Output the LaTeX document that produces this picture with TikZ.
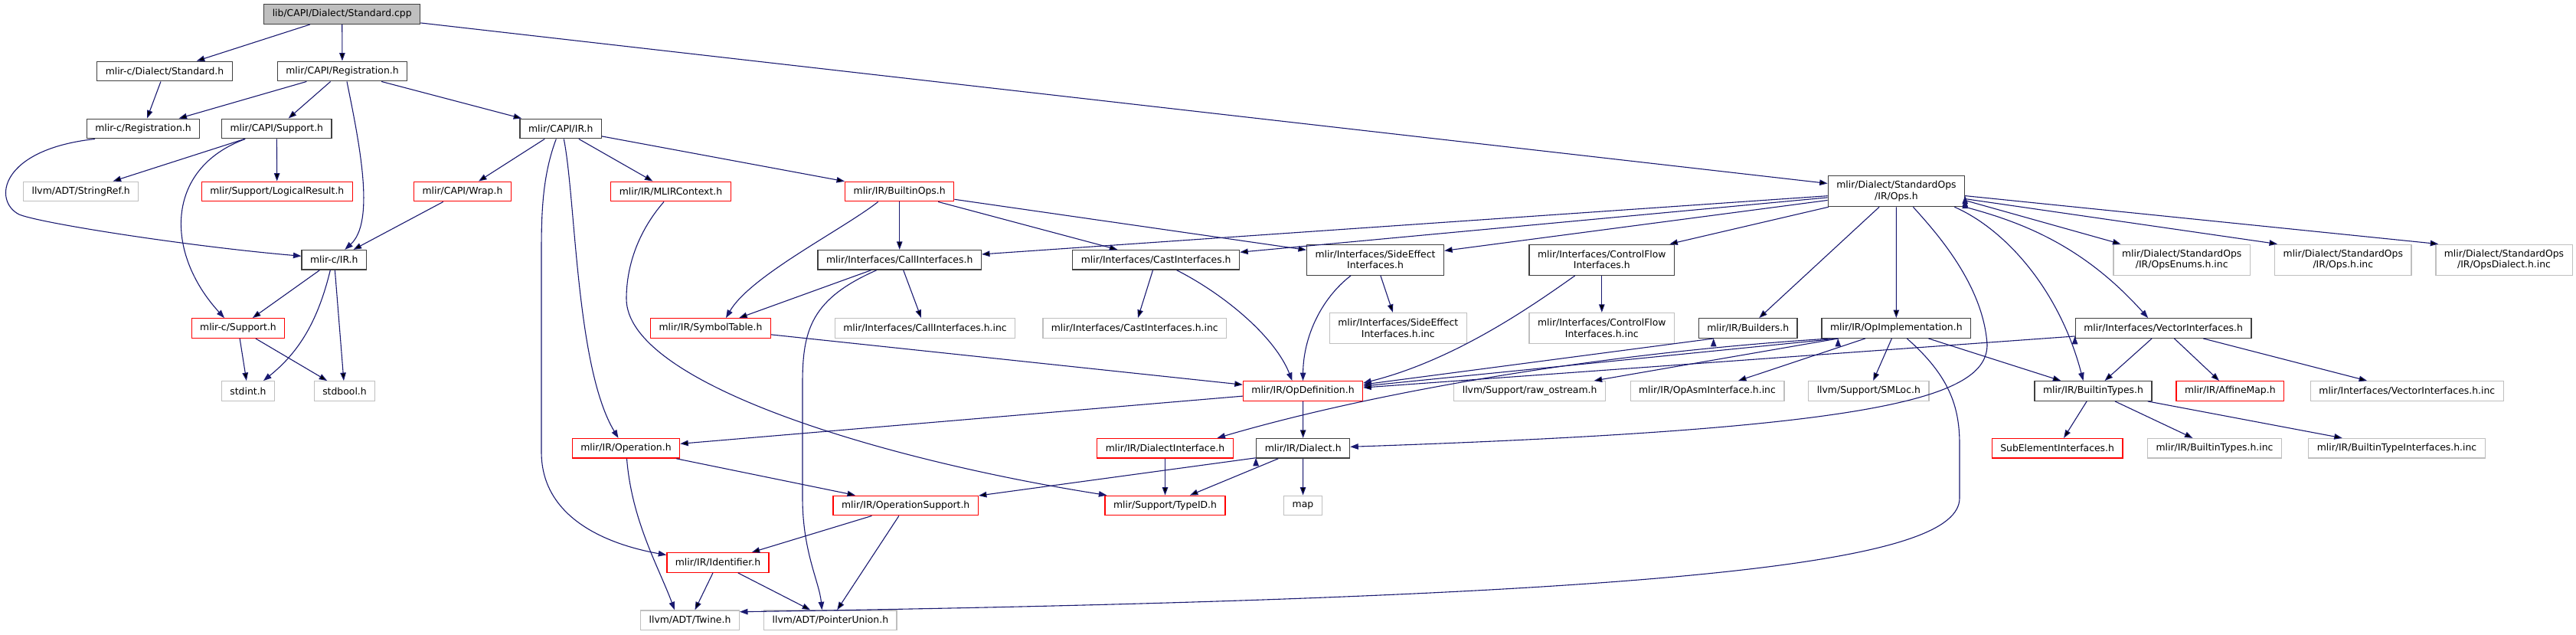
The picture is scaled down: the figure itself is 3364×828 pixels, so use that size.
\documentclass[tikz,border=0pt]{standalone}
\usepackage{fontspec}
\newfontfamily\graphfont{DejaVu Sans}
\usetikzlibrary{arrows.meta}
\definecolor{edgeblue}{HTML}{191970}
\definecolor{docgrey}{HTML}{404040}
\definecolor{sysgrey}{HTML}{BFBFBF}

\begin{document}
\begin{tikzpicture}[
	x=1pt, y=-1pt,
	>={Triangle[length=10.5pt,width=7.5pt]},
	file/.style={rectangle, draw, fill=white, line width=1.3pt, inner xsep=11pt, inner ysep=0pt,
		minimum height=25.6pt, font=\graphfont\fontsize{12.4}{14.3}\selectfont},
	doc/.style={file, draw=docgrey},
	trunc/.style={file, draw=red},
	sys/.style={file, draw=sysgrey},
	root/.style={doc, fill=sysgrey},
	twoline/.style={align=center, minimum height=40pt},
	dep/.style={->, draw=edgeblue, line width=1.1pt}
	]
	\useasboundingbox (0,0) rectangle (3364,828);
	
	% Top rows
	\node[root] (cpp) at (446.7,18.5) {lib/CAPI/Dialect/Standard.cpp};
	\node[doc] (stdh) at (215,93) {mlir-c/Dialect/Standard.h};
	\node[doc] (capireg) at (447,93) {mlir/CAPI/Registration.h};
	\node[doc] (creg) at (187,168) {mlir-c/Registration.h};
	\node[doc] (capisupp) at (361.3,168) {mlir/CAPI/Support.h};
	\node[doc] (capiir) at (732.3,168) {mlir/CAPI/IR.h};
	\node[sys] (stringref) at (105.7,250) {llvm/ADT/StringRef.h};
	\node[trunc] (logicres) at (361.8,250) {mlir/Support/LogicalResult.h};
	\node[trunc] (wrap) at (604,250) {mlir/CAPI/Wrap.h};
	\node[trunc] (mlirctx) at (876,250) {mlir/IR/MLIRContext.h};
	\node[trunc] (builtinops) at (1174.7,250) {mlir/IR/BuiltinOps.h};
	\node[doc,twoline] (opsh) at (2476.4,249.6) {mlir/Dialect/StandardOps\\/IR/Ops.h};
	
	% Interfaces
	\node[doc] (cir) at (436.3,339.3) {mlir-c/IR.h};
	\node[doc] (callif) at (1174.7,339.3) {mlir/Interfaces/CallInterfaces.h};
	\node[doc] (castif) at (1509.7,339.3) {mlir/Interfaces/CastInterfaces.h};
	\node[doc,twoline] (sideeff) at (1796,339.2) {mlir/Interfaces/SideEffect\\Interfaces.h};
	\node[doc,twoline] (ctrlflow) at (2091.8,339.2) {mlir/Interfaces/ControlFlow\\Interfaces.h};
	\node[sys,twoline] (opsenums) at (2849.2,339.2) {mlir/Dialect/StandardOps\\/IR/OpsEnums.h.inc};
	\node[sys,twoline] (opsinc) at (3059.8,339.2) {mlir/Dialect/StandardOps\\/IR/Ops.h.inc};
	\node[sys,twoline] (opsdialect) at (3270,339.2) {mlir/Dialect/StandardOps\\/IR/OpsDialect.h.inc};
	
	\node[trunc] (csupp) at (311,428.5) {mlir-c/Support.h};
	\node[trunc] (symtab) at (928,428.5) {mlir/IR/SymbolTable.h};
	\node[sys] (callinc) at (1208,428.5) {mlir/Interfaces/CallInterfaces.h.inc};
	\node[sys] (castinc) at (1481.8,428.5) {mlir/Interfaces/CastInterfaces.h.inc};
	\node[sys,twoline] (sideeffinc) at (1825.8,428.5) {mlir/Interfaces/SideEffect\\Interfaces.h.inc};
	\node[sys,twoline] (ctrlflowinc) at (2091.8,428.5) {mlir/Interfaces/ControlFlow\\Interfaces.h.inc};
	\node[doc] (builders) at (2282.7,428.5) {mlir/IR/Builders.h};
	\node[doc] (opimpl) at (2476.3,428.5) {mlir/IR/OpImplementation.h};
	\node[doc] (vecif) at (2825.1,428.5) {mlir/Interfaces/VectorInterfaces.h};
	
	% Lower rows
	\node[sys] (stdint) at (324,510.5) {stdint.h};
	\node[sys] (stdbool) at (450,510.5) {stdbool.h};
	\node[trunc] (opdef) at (1701.5,510.5) {mlir/IR/OpDefinition.h};
	\node[sys] (rawos) at (1997.6,510.5) {llvm/Support/raw\_ostream.h};
	\node[sys] (opasminc) at (2229.5,510.5) {mlir/IR/OpAsmInterface.h.inc};
	\node[sys] (smloc) at (2440.3,510.5) {llvm/Support/SMLoc.h};
	\node[doc] (btypes) at (2733.5,510.5) {mlir/IR/BuiltinTypes.h};
	\node[trunc] (affmap) at (2912.3,510.5) {mlir/IR/AffineMap.h};
	\node[sys] (vecinc) at (3143.3,510.5) {mlir/Interfaces/VectorInterfaces.h.inc};
	
	\node[trunc] (operation) at (817.5,585.3) {mlir/IR/Operation.h};
	\node[trunc] (dialectif) at (1521.5,585.3) {mlir/IR/DialectInterface.h};
	\node[doc] (dialect) at (1701.7,585.3) {mlir/IR/Dialect.h};
	\node[trunc] (subelem) at (2686.6,585.3) {SubElementInterfaces.h};
	\node[sys] (btypesinc) at (2892,585.3) {mlir/IR/BuiltinTypes.h.inc};
	\node[sys] (btifinc) at (3130,585.3) {mlir/IR/BuiltinTypeInterfaces.h.inc};
	
	\node[trunc] (opsupp) at (1182.7,660) {mlir/IR/OperationSupport.h};
	\node[trunc] (typeid) at (1521.5,660) {mlir/Support/TypeID.h};
	\node[sys] (map) at (1701.5,660) {map};
	\node[trunc] (ident) at (937.5,734.5) {mlir/IR/Identifier.h};
	\node[sys] (twine) at (901,809.7) {llvm/ADT/Twine.h};
	\node[sys] (ptrunion) at (1084.4,809.7) {llvm/ADT/PointerUnion.h};
	
	% C API includes
	\path[dep] (cpp) edge (stdh) edge (capireg) edge (opsh);
	\path[dep] (stdh) edge (creg);
	\path[dep] (capireg) edge (creg) edge (capisupp) edge (capiir);
	\draw[dep] ([xshift=6pt]capireg.south) .. controls (470,190) and (490,290) .. ([xshift=14pt]cir.north);
	\draw[dep] ([xshift=-63pt]creg.south) .. controls (0,195) and (-10,262) .. (25,280)
		.. controls (55,292) and (250,322) .. ([yshift=5pt]cir.west);
	\path[dep] (capisupp) edge (stringref) edge (logicres);
	\draw[dep] ([xshift=-41pt]capisupp.south) .. controls (215,220) and (215,330) .. ([xshift=-18pt]csupp.north);
	\path[dep] (capiir) edge (wrap) edge (mlirctx) edge (builtinops);
	\draw[dep] ([xshift=4pt]capiir.south) .. controls (752,260) and (752,480) .. ([xshift=-10pt]operation.north);
	\draw[dep] ([xshift=-6pt]capiir.south) .. controls (708,230) and (707,280) .. (707,330) -- (707,590)
		.. controls (707,680) and (800,712) .. ([yshift=10pt]ident.west);
	\path[dep] (wrap) edge (cir);
	\path[dep] (cir) edge (csupp) edge (stdbool);
	\draw[dep] ([xshift=-5pt]cir.south) .. controls (415,420) and (390,460) .. ([xshift=20pt]stdint.north);
	\path[dep] (csupp) edge (stdint) edge (stdbool);
	
	% IR includes
	\draw[dep] ([xshift=-9pt]mlirctx.south) .. controls (835,300) and (818,345) .. (818,390)
		.. controls (818,500) and (1150,600) .. ([xshift=3pt]typeid.north west);
	\path[dep] (builtinops) edge (callif) edge (castif) edge (sideeff);
	\draw[dep] ([xshift=-28pt]builtinops.south) .. controls (1100,300) and (980,360) .. ([xshift=20pt]symtab.north);
	\path[dep] (callif) edge (symtab) edge (callinc);
	\draw[dep] ([xshift=-30pt]callif.south) .. controls (1060,390) and (1048,430) .. (1048,500) -- (1048,650)
		.. controls (1048,720) and (1070,760) .. ([xshift=-11pt]ptrunion.north);
	\path[dep] (castif) edge (castinc);
	\draw[dep] ([xshift=27pt]castif.south) .. controls (1600,385) and (1665,440) .. ([xshift=-14pt]opdef.north);
	\path[dep] (symtab) edge (opdef);
	\path[dep] (sideeff) edge (sideeffinc);
	\draw[dep] ([xshift=-32pt]sideeff.south) .. controls (1725,390) and (1702,440) .. (opdef.north);
	\path[dep] (ctrlflow) edge (ctrlflowinc);
	\draw[dep] ([xshift=-35pt]ctrlflow.south) .. controls (2000,400) and (1900,470) .. ([yshift=-3pt]opdef.north east);
	
	% StandardOps includes
	\path[dep] (opsh) edge (callif) edge (castif) edge (sideeff) edge (ctrlflow) edge (builders) edge (opimpl);
	\path[dep] ([yshift=-12pt]opsh.east) edge ([xshift=10pt]opsenums.north west);
	\path[dep] ([yshift=-10pt]opsh.east) edge ([xshift=4pt]opsinc.north west);
	\path[dep] ([yshift=-6pt]opsh.east) edge ([xshift=4pt]opsdialect.north west);
	\draw[dep] ([xshift=22pt]opsh.south) .. controls (2525,300) and (2590,370) .. (2595,450)
		.. controls (2595,520) and (2450,560) .. ([yshift=2pt]dialect.east);
	\draw[dep] ([xshift=76pt]opsh.south) .. controls (2620,300) and (2690,380) .. ([xshift=-13pt]btypes.north);
	\draw[dep] (opsh.south east) .. controls (2640,290) and (2720,320) .. ([xshift=-20pt]vecif.north);
	\path[dep] ([xshift=-45pt]builders.south) edge ([yshift=-5pt]opdef.north east);
	\path[dep] (opimpl) edge (opasminc) edge (smloc) edge (btypes);
	\path[dep] ([xshift=-76pt]opimpl.south) edge ([yshift=-7pt]opdef.north east) edge ([xshift=84pt]rawos.north);
	\draw[dep] ([xshift=-86pt]opimpl.south) .. controls (2100,460) and (1800,510) .. ([xshift=68pt]dialectif.north);
	\draw[dep] ([xshift=14pt]opimpl.south) .. controls (2545,490) and (2559,530) .. (2559,580) -- (2559,650)
		.. controls (2559,730) and (2250,780) .. ([yshift=11pt]twine.east);
	\path[dep] (vecif) edge (btypes) edge (affmap) edge (vecinc);
	\path[dep] ([yshift=3pt]vecif.south west) edge ([yshift=-9pt]opdef.north east);
	\path[dep] (btypes) edge (subelem) edge (btypesinc) edge (btifinc);
	
	% Core headers
	\path[dep] (opdef) edge (operation) edge (dialect);
	\path[dep] (operation) edge (opsupp);
	\draw[dep] ([xshift=1pt]operation.south) .. controls (825,680) and (860,740) .. ([xshift=-20pt]twine.north);
	\path[dep] ([yshift=1pt]dialect.south west) edge (opsupp);
	\path[dep] (dialect) edge (typeid) edge (map);
	\path[dep] (dialectif) edge (typeid);
	\path[dep] (opsupp) edge (ident) edge (ptrunion);
	\path[dep] (ident) edge (twine) edge (ptrunion);
	
\end{tikzpicture}
\end{document}
